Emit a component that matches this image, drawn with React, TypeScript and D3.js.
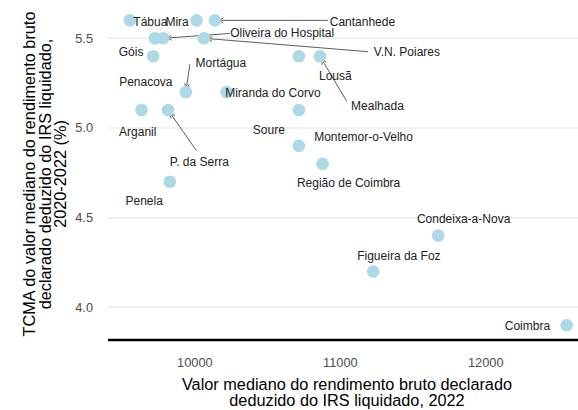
import * as d3 from "d3";

// concelhos da Região de Coimbra
const municipios = [
  "Tábua", "Mira", "Cantanhede", "Penacova", "Oliveira do Hospital",
  "V.N. Poiares", "Góis", "Lousã", "Mealhada", "Mortágua",
  "Miranda do Corvo", "Arganil", "P. da Serra", "Soure", "Montemor-o-Velho",
  "Região de Coimbra", "Penela", "Condeixa-a-Nova", "Figueira da Foz", "Coimbra",
];
// valor mediano do rendimento bruto declarado deduzido do IRS liquidado, 2022
const rendimento = [
  9553, 10012, 10138, 9725, 9782,
  10062, 9713, 10715, 10860, 9938,
  10218, 9633, 9816, 10715, 10715,
  10878, 9828, 11673, 11226, 12556,
];
// TCMA 2020-2022 (%)
const tcma = [
  5.6, 5.6, 5.6, 5.5, 5.5,
  5.5, 5.4, 5.4, 5.4, 5.2,
  5.2, 5.1, 5.1, 5.1, 4.9,
  4.8, 4.7, 4.4, 4.2, 3.9,
];
const xTicks = [10000, 11000, 12000];
const yTicks = [4.0, 4.5, 5.0, 5.5];

// posição dos rótulos (px, relativo ao ponto), como o ggrepel os deixou
const labelOffset: [number, number][] = [
  [20.5, 1], [-19.5, 1], [147.5, 1], [-9, 44], [119, -5],
  [203, 13.4], [-22, -4.4], [36.5, 19.3], [57.5, 50], [35, -29.4],
  [46.3, 0.6], [-3.7, 21.4], [31.2, 51.4], [-30, 19.7], [64.7, -8.7],
  [26, 19.3], [-25.7, 19], [25.4, -17], [25.7, -16], [-39.2, 0.7],
];
// início dos segmentos com seta (px, relativo ao ponto)
const segmentStart: Record<string, [number, number]> = {
  "Cantanhede": [113, 0],
  "Oliveira do Hospital": [66.7, -4.8],
  "V.N. Poiares": [164, 13.4],
  "Mortágua": [4, -27.7],
  "Mealhada": [26.7, 45],
  "P. da Serra": [28.4, 40.7],
};

const width = 578;
const height = 410;
const panel = { left: 108, right: 588.5, top: 5.1, bottom: 340.5 };
const font = "'Liberation Sans', Arial, sans-serif";

function expand([lo, hi]: number[]) {
  const pad = (hi - lo) * 0.05;
  return [lo - pad, hi + pad];
}

export default function App() {
  const x = d3.scaleLinear()
    .domain(expand(d3.extent(rendimento) as number[]))
    .range([panel.left, panel.right]);
  const y = d3.scaleLinear()
    .domain(expand(d3.extent(tcma) as number[]))
    .range([panel.bottom, panel.top]);

  // segmento do rótulo até ao ponto, com ponta de seta aberta
  const arrow = (px: number, py: number, s: [number, number]) => {
    const sx = px + s[0], sy = py + s[1];
    const len = Math.hypot(s[0], s[1]);
    const ux = -s[0] / len, uy = -s[1] / len;
    const ex = px - ux * 4, ey = py - uy * 4;
    const a = Math.PI / 6, h = 5;
    const ang = Math.atan2(uy, ux);
    const h1 = [ex - h * Math.cos(ang - a), ey - h * Math.sin(ang - a)];
    const h2 = [ex - h * Math.cos(ang + a), ey - h * Math.sin(ang + a)];
    return `M${sx},${sy}L${ex},${ey}M${h1[0]},${h1[1]}L${ex},${ey}L${h2[0]},${h2[1]}`;
  };

  return (
    <div style={{ position: "absolute", left: 0, top: 0 }}>
      <svg width={width} height={height} style={{ display: "block", fontFamily: font }}>
        {yTicks.map((t) => (
          <g key={t}>
            <line x1={panel.left} x2={width} y1={y(t)} y2={y(t)} stroke="#E3E3E3" strokeWidth={1.1} />
            <text x={93} y={y(t)} dy="0.35em" textAnchor="end" fontSize={12.8} fill="#4D4D4D">
              {t.toFixed(1)}
            </text>
          </g>
        ))}
        <line x1={panel.left} x2={width} y1={340} y2={340} stroke="#000" strokeWidth={2.4} />
        {xTicks.map((t) => (
          <text key={t} x={x(t)} y={366.5} textAnchor="middle" fontSize={12.8} fill="#4D4D4D">
            {t}
          </text>
        ))}

        {municipios.map((m, i) =>
          segmentStart[m] ? (
            <path key={m} d={arrow(x(rendimento[i]), y(tcma[i]), segmentStart[m])}
              fill="none" stroke="#333" strokeWidth={0.8} />
          ) : null
        )}
        {municipios.map((m, i) => (
          <circle key={m} cx={x(rendimento[i])} cy={y(tcma[i])} r={6.3} fill="#ADD8E6" />
        ))}
        {municipios.map((m, i) => (
          <text key={m} x={x(rendimento[i]) + labelOffset[i][0]} y={y(tcma[i]) + labelOffset[i][1]}
            dy="0.35em" textAnchor="middle" fontSize={12} fill="#222">
            {m}
          </text>
        ))}

        <text x={347} y={389.5} textAnchor="middle" fontSize={16.3} fill="#000">
          Valor mediano do rendimento bruto declarado
        </text>
        <text x={347} y={406} textAnchor="middle" fontSize={16.3} fill="#000">
          deduzido do IRS liquidado, 2022
        </text>

        <g transform="translate(0,174) rotate(-90)" fontSize={16.3} fill="#000">
          <text x={0} y={35} textAnchor="middle">TCMA do valor mediano do rendimento bruto</text>
          <text x={0} y={50.5} textAnchor="middle">declarado deduzido do IRS liquidado,</text>
          <text x={0} y={66} textAnchor="middle">2020-2022 (%)</text>
        </g>
      </svg>
    </div>
  );
}
